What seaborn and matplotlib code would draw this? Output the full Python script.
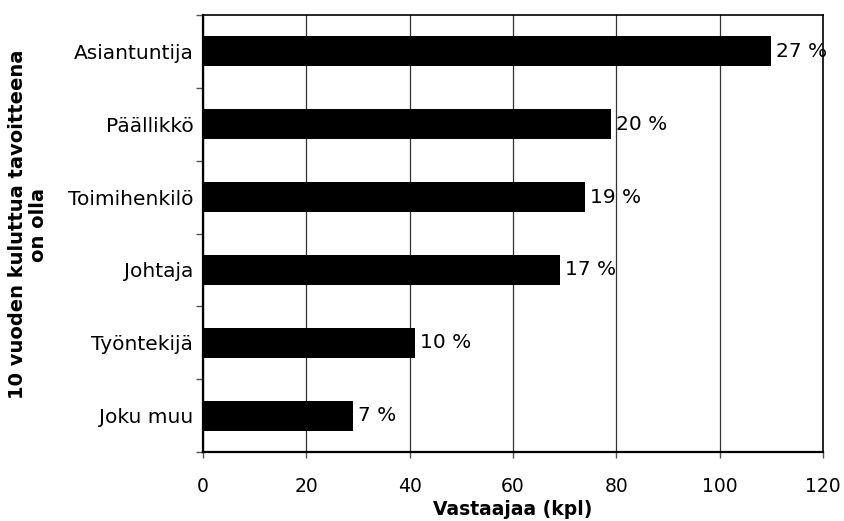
import matplotlib
matplotlib.use("Agg")
import matplotlib.pyplot as plt
import seaborn as sns
import pandas as pd
import numpy as np

categories = ["Asiantuntija", "Päällikkö", "Toimihenkilö", "Johtaja", "Työntekijä", "Joku muu"]
counts = [110, 79, 74, 69, 41, 29]
shares = ["27 %", "20 %", "19 %", "17 %", "10 %", "7 %"]
x_ticks = [0, 20, 40, 60, 80, 100, 120]

sns.set_theme(style="white")
plt.rcParams["font.family"] = ["DejaVu Sans"]
plt.rcParams["text.color"] = "black"
plt.rcParams["axes.labelcolor"] = "black"
plt.rcParams["xtick.color"] = "black"
plt.rcParams["ytick.color"] = "black"

df = pd.DataFrame({"ryhma": categories, "lkm": counts})

fig = plt.figure(figsize=(8.44, 5.21), dpi=100)
ax = fig.add_axes([203 / 844, 1 - 452 / 521, 620 / 844, 437 / 521])

sns.barplot(data=df, x="lkm", y="ryhma", orient="h", color="black",
            width=0.41, saturation=1, linewidth=0, ax=ax, zorder=3)

ax.set_xlim(0, 120)
ax.set_ylim(5.5, -0.5)
ax.set_xticks(x_ticks)
ax.set_xticklabels([str(t) for t in x_ticks], fontsize=13.5)
ax.tick_params(axis="x", bottom=True, direction="out", length=4, width=1,
               color="#555555", pad=14)

# category labels at bar centres, tick marks at category boundaries
ax.set_yticks(range(len(categories)))
ax.set_yticklabels(categories, fontsize=14.5)
ax.tick_params(axis="y", which="major", left=False, length=0, pad=7)
ax.set_yticks(np.arange(-0.5, len(categories)), minor=True)
ax.tick_params(axis="y", which="minor", left=True, direction="out", length=5,
               width=1, color="#555555")

ax.grid(axis="x", color="#333333", linewidth=0.9, zorder=0)
ax.grid(axis="y", visible=False)

for side in ["left", "bottom", "right", "top"]:
    ax.spines[side].set_visible(True)
    ax.spines[side].set_color("black")
ax.spines["left"].set_linewidth(1.6)
ax.spines["bottom"].set_linewidth(1.6)
ax.spines["right"].set_linewidth(1.2)
ax.spines["top"].set_linewidth(1.2)

for i, (v, s) in enumerate(zip(counts, shares)):
    ax.text(v + 1.0, i, s, va="center", ha="left", fontsize=14.5,
            color="black", clip_on=False, zorder=4)

ax.set_xlabel("Vastaajaa (kpl)", fontsize=13.5, fontweight="bold", labelpad=3)
ax.set_ylabel("10 vuoden kuluttua tavoitteena\non olla", fontsize=14,
              fontweight="bold", linespacing=1.15)
ax.yaxis.set_label_coords(-0.25, 0.52)

fig.savefig("out.png", dpi=100)
